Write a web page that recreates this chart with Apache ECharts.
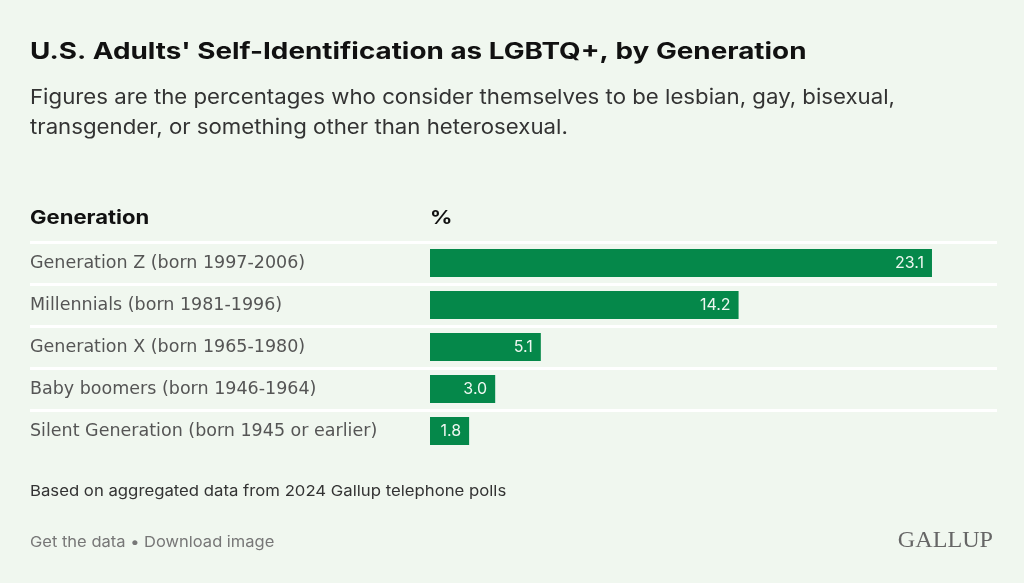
<!DOCTYPE html>
<html>
<head>
<meta charset="utf-8">
<script src="https://cdn.jsdelivr.net/npm/echarts@6/dist/echarts.min.js"></script>
<style>
html,body{margin:0;padding:0;background:#f0f7ef;}
#c{width:1024px;height:583px;}
</style>
</head>
<body>
<div id="c"></div>
<script>
const titleText = "U.S. Adults' Self-Identification as LGBTQ+, by Generation";
const subtitleText = "Figures are the percentages who consider themselves to be lesbian, gay, bisexual,\ntransgender, or something other than heterosexual.";
const categoryHeader = "Generation";
const valueHeader = "%";
const categories = [
  "Generation Z (born 1997-2006)",
  "Millennials (born 1981-1996)",
  "Generation X (born 1965-1980)",
  "Baby boomers (born 1946-1964)",
  "Silent Generation (born 1945 or earlier)"
];
const values = [23.1, 14.2, 5.1, 3.0, 1.8];
const noteText = "Based on aggregated data from 2024 Gallup telephone polls";
const linksText = "Get the data \u2022 Download image";
const brandText = "GALLUP";

const FONT = "Inter, 'Noto Sans', sans-serif";
function txt(text, x, y, font, fill, sx, extra) {
  return Object.assign({
    type: 'text', x: x, y: y, scaleX: sx, silent: true,
    style: Object.assign({text: text, x: 0, y: 0, font: font, fill: fill, align: 'left', verticalAlign: 'middle'}, extra || {})
  });
}
const chart = echarts.init(document.getElementById('c'), null, {renderer: 'canvas'});
chart.setOption({
  backgroundColor: '#f0f7ef',
  animation: false,
  graphic: [
    txt(titleText, 30, 52, "bold 23px " + FONT, '#111', 1.21),
    txt(subtitleText, 30, 112.5, "20.5px " + FONT, '#333', 1.084, {lineHeight: 30}),
    txt(categoryHeader, 30, 218.5, "bold 19px " + FONT, '#111', 1.16),
    txt(valueHeader, 430, 218.5, "bold 19px " + FONT, '#111', 1.16),
    txt(noteText, 30, 491, "15px " + FONT, '#333', 1.115),
    txt(linksText, 30, 542.5, "15px " + FONT, '#777', 1.10),
    txt(brandText, 993, 540.5, "23px 'Liberation Serif', 'DejaVu Serif', serif", '#666', 1.05, {align: 'right'})
  ],
  grid: [
    {left: 30, top: 242, width: 967, height: 210},
    {left: 430, top: 242, width: 565, height: 210}
  ],
  xAxis: [
    {gridIndex: 0, type: 'value', show: false, min: 0, max: 1},
    {gridIndex: 1, type: 'value', show: false, min: 0, max: 26}
  ],
  yAxis: [
    {
      gridIndex: 0, type: 'category', data: categories, inverse: true,
      axisLine: {show: false}, axisTick: {show: false},
      axisLabel: {inside: true, margin: 0, align: 'left', color: '#555', fontSize: 17.5, fontFamily: "'DejaVu Sans', sans-serif"},
      splitLine: {show: true, showMaxLine: false, lineStyle: {color: '#ffffff', width: 3}}
    },
    {
      gridIndex: 1, type: 'category', data: categories, inverse: true, show: false
    }
  ],
  series: [
    {
      type: 'bar', xAxisIndex: 1, yAxisIndex: 1, data: values, barWidth: 28,
      itemStyle: {color: '#05884a'},
      label: {
        show: true, position: 'insideRight', distance: 8,
        color: '#eef7f1', fontSize: 16, fontFamily: FONT,
        formatter: p => p.value.toFixed(1)
      }
    }
  ]
});
</script>
</body>
</html>
